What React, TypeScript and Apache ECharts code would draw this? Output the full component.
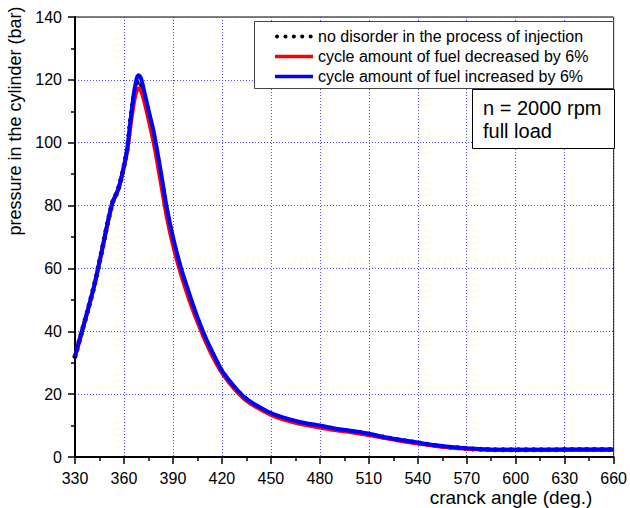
import React, { useEffect, useRef } from "react";
import * as echarts from "echarts";

const angles = [330, 334, 338, 342, 346, 350, 353, 356, 358, 360, 362, 364, 366, 367, 368, 369, 370, 371, 373, 375, 378, 380, 383, 386, 390, 395, 400, 405, 410, 415, 420, 425, 430, 435, 440, 450, 460, 470, 480, 490, 500, 510, 520, 530, 540, 550, 560, 570, 580, 590, 600, 620, 640, 660];

const noDisorder = [32, 39.5, 47, 55, 64.5, 74.5, 81, 84.5, 88, 92.5, 98, 107, 114.5, 117.2, 119, 119.6, 119.3, 118, 113.8, 109.3, 102.5, 97, 88, 78.8, 69, 59, 51, 43.8, 37.4, 32, 27.2, 23.7, 20.7, 18.2, 16.5, 13.7, 11.9, 10.6, 9.7, 8.8, 8.1, 7.2, 6.2, 5.3, 4.5, 3.7, 3.1, 2.7, 2.4, 2.3, 2.3, 2.3, 2.4, 2.4];

const fuelDecreased = [32, 39.5, 47, 55, 64.5, 74.5, 81, 84.5, 88, 92.5, 97.5, 105.5, 112.5, 115, 116.8, 117.3, 116.9, 115.8, 112, 107.5, 100.5, 95, 86, 77, 67.5, 58, 50, 43, 36.8, 31.3, 26.8, 23.3, 20.3, 17.9, 16.2, 13.4, 11.6, 10.3, 9.4, 8.5, 7.8, 7, 6, 5.1, 4.3, 3.6, 3, 2.6, 2.4, 2.3, 2.3, 2.3, 2.3, 2.3];

const fuelIncreased = [32, 39.5, 47, 55, 64.5, 74.5, 81, 84.5, 88, 92.5, 98, 107, 115.5, 118.5, 120.8, 121.5, 121, 119.5, 115, 110.5, 104, 98.5, 89.5, 80, 70, 60, 52, 44.5, 38, 32.5, 27.5, 24, 21, 18.5, 16.8, 14, 12.2, 10.9, 10, 9, 8.3, 7.4, 6.3, 5.4, 4.6, 3.8, 3.2, 2.8, 2.5, 2.3, 2.3, 2.3, 2.4, 2.4];

const seriesNames = [
  "no disorder in the process of injection",
  "cycle amount of fuel decreased by 6%",
  "cycle amount of fuel increased by 6%",
];

const FONT = "'Liberation Sans', Arial, sans-serif";

export default function App() {
  const ref = useRef<HTMLDivElement>(null);
  useEffect(() => {
    if (!ref.current) return;
    const chart = echarts.init(ref.current, null, { renderer: "svg" });
    const pairs = (vals: number[]) => angles.map((a, i) => [a, vals[i]]);
    const gridLine = { show: true, lineStyle: { color: "#4d4dff", width: 1, type: [1, 2] as any } };
    chart.setOption({
      animation: false,
      backgroundColor: "#fff",
      textStyle: { fontFamily: FONT },
      grid: { left: 75, right: 15, top: 17, bottom: 51, show: true, borderColor: "#000", borderWidth: 1, backgroundColor: "transparent" },
      xAxis: {
        type: "value",
        min: 330,
        max: 660,
        interval: 30,
        axisLine: { show: true, onZero: false, lineStyle: { color: "#000", width: 2 } },
        axisTick: { show: true, length: 7, lineStyle: { color: "#000", width: 1.5 } },
        minorTick: { show: true, splitNumber: 2, length: 4, lineStyle: { color: "#000", width: 1.5 } },
        axisLabel: { color: "#000", fontSize: 16, fontFamily: FONT, margin: 13 },
        splitLine: gridLine,
      },
      yAxis: {
        type: "value",
        min: 0,
        max: 140,
        interval: 20,
        axisLine: { show: true, onZero: false, lineStyle: { color: "#000", width: 2 } },
        axisTick: { show: true, length: 7, lineStyle: { color: "#000", width: 1.5 } },
        minorTick: { show: true, splitNumber: 2, length: 4, lineStyle: { color: "#000", width: 1.5 } },
        axisLabel: { color: "#000", fontSize: 16, fontFamily: FONT, margin: 13 },
        splitLine: gridLine,
      },
      series: [
        {
          name: seriesNames[0],
          type: "line",
          data: pairs(noDisorder),
          showSymbol: false,
          smooth: 0.2,
          z: 2,
          lineStyle: { color: "#000", width: 5, type: [0.1, 7.5] as any, cap: "round" },
        },
        {
          name: seriesNames[1],
          type: "line",
          data: pairs(fuelDecreased),
          showSymbol: false,
          smooth: 0.2,
          z: 3,
          lineStyle: { color: "#ff0000", width: 4 },
        },
        {
          name: seriesNames[2],
          type: "line",
          data: pairs(fuelIncreased),
          showSymbol: false,
          smooth: 0.2,
          z: 4,
          lineStyle: { color: "#0000ff", width: 4 },
        },
      ],
      graphic: [
        {
          type: "text",
          x: 15,
          y: 121,
          rotation: Math.PI / 2,
          style: { text: "pressure in the cylinder (bar)", fontSize: 18, fontFamily: FONT, fill: "#000", align: "center", verticalAlign: "middle" },
        },
        {
          type: "text",
          x: 511,
          y: 497.5,
          style: { text: "cranck angle (deg.)", fontSize: 19, fontFamily: FONT, fill: "#000", align: "center", verticalAlign: "middle" },
        },
        {
          type: "rect",
          shape: { x: 254.5, y: 21.5, width: 359, height: 67 },
          style: { fill: "#fff", stroke: "#444", lineWidth: 1 },
          z: 10,
        },
        {
          type: "line",
          shape: { x1: 277, y1: 36.5, x2: 311, y2: 36.5 },
          style: { stroke: "#000", lineWidth: 4, lineDash: [0.1, 8.3], lineCap: "round" },
          z: 11,
        },
        {
          type: "line",
          shape: { x1: 275, y1: 56.5, x2: 313, y2: 56.5 },
          style: { stroke: "#ff0000", lineWidth: 3.5 },
          z: 11,
        },
        {
          type: "line",
          shape: { x1: 275, y1: 76.5, x2: 313, y2: 76.5 },
          style: { stroke: "#0000ff", lineWidth: 3.5 },
          z: 11,
        },
        ...seriesNames.map((n, i) => ({
          type: "text",
          x: 318,
          y: 36.5 + i * 20,
          z: 11,
          style: { text: n, fontSize: 16, fontFamily: FONT, fill: "#000", align: "left", verticalAlign: "middle" },
        })),
        {
          type: "rect",
          shape: { x: 472.5, y: 89.5, width: 142, height: 59 },
          style: { fill: "#fff", stroke: "#000", lineWidth: 1 },
          z: 10,
        },
        {
          type: "text",
          x: 483,
          y: 108,
          z: 11,
          style: { text: "n = 2000 rpm", fontSize: 20, fontFamily: FONT, fill: "#000", align: "left", verticalAlign: "middle" },
        },
        {
          type: "text",
          x: 483,
          y: 131,
          z: 11,
          style: { text: "full load", fontSize: 20, fontFamily: FONT, fill: "#000", align: "left", verticalAlign: "middle" },
        },
      ],
    });
    return () => chart.dispose();
  }, []);
  return <div ref={ref} style={{ position: "absolute", left: 0, top: 0, width: 630, height: 508 }} />;
}
